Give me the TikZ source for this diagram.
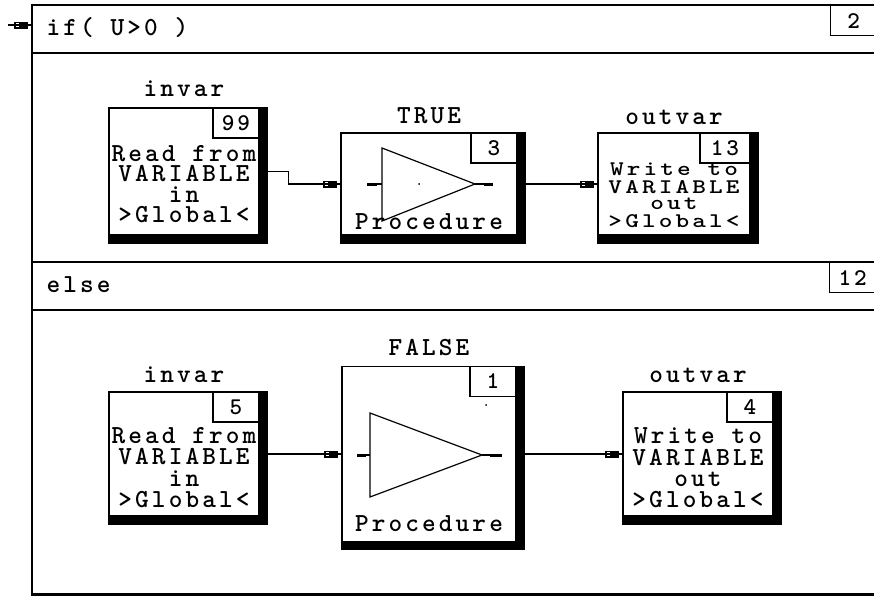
\documentclass[tikz,border=0pt]{standalone}
\usepackage{fontspec}
\newfontfamily\pixfont{lmmonolt10-bold}[Extension=.otf,LetterSpace=12]
\usepackage{tikz}
\usetikzlibrary{arrows.meta,positioning,backgrounds,calc,decorations.markings}

\begin{document}
\begin{tikzpicture}[
    x=1pt, y=-1pt,
    font=\pixfont\fontsize{26}{26}\selectfont,
    line width=1.2pt,
    blk/.style={draw, fill=white, inner sep=0pt},
    numbox/.style={draw, fill=white, inner sep=0pt, minimum width=46pt, minimum height=30pt, font=\pixfont\fontsize{24}{24}\selectfont},
    lbl/.style={inner sep=0pt},
    txt/.style={inner sep=0pt, align=center},
    wire/.style={line width=1.2pt, postaction={decorate}, decoration={markings, mark=at position -3pt with {\arrow{Rectangle[open,length=6pt,width=7pt]Rectangle[length=8pt,width=7pt]}}}}
]
\useasboundingbox (0,0) rectangle (874,597);
\clip (0,0) rectangle (874,597);

% outer frame and rows
\node[blk, fill=none, minimum width=848pt, minimum height=589pt] (frm) at (456,299.5) {};
\draw[line width=3pt] (frm.south west) -- (frm.south east);
\draw (32,53) -- (880,53);
\draw (32,262) -- (880,262);
\draw (32,310) -- (880,310);

\node[lbl, anchor=base west] (cond) at (46,35) {if( U>0 )};
\node[numbox, anchor=north west] (n2) at (830,5) {2};
\node[lbl, anchor=base west] (els) at (46,292) {else};
\node[numbox, anchor=north west] (n12) at (829,262) {12};

% blocks
\node[blk, minimum width=150pt, minimum height=127pt] (in1) at (184,171.5) {};
\node[blk, minimum width=176pt, minimum height=102pt] (pr1) at (429,184) {};
\node[blk, minimum width=152pt, minimum height=102pt] (out1) at (674,184) {};
\node[blk, minimum width=150pt, minimum height=124pt] (in2) at (184,454) {};
\node[blk, minimum width=174pt, minimum height=175pt] (pr2) at (429,454) {};
\node[blk, minimum width=150pt, minimum height=124pt] (out2) at (698,454) {};

\begin{scope}[on background layer]
\foreach \b in {in1,pr1,out1,in2,pr2,out2}
  \fill (\b.north west) rectangle ([shift={(8,8)}]\b.south east);
\end{scope}

\node[lbl, above=10pt of in1] (l1) {invar};
\node[lbl, above=8pt of pr1] (l2) {TRUE};
\node[lbl, above=7pt of out1] (l3) {outvar};
\node[lbl, above=8pt of in2] (l4) {invar};
\node[lbl, above=10pt of pr2] (l5) {FALSE};
\node[lbl, above=8pt of out2] (l6) {outvar};

\node[txt, font=\pixfont\fontsize{26}{20.5}\selectfont, above=12pt of in1.south] (t1) {Read from\\VARIABLE\\in\\>Global<};
\node[txt, above=5pt of pr1.south] (t2) {Procedure};
\node[txt, font=\pixfont\fontsize{26}{21}\selectfont, above=2pt of out1.south] (t3)
  {\scalebox{1}[0.8]{\begin{tabular}{@{}c@{}}Write to\\VARIABLE\\out\\>Global<\end{tabular}}};
\node[txt, font=\pixfont\fontsize{26}{21.5}\selectfont, above=8pt of in2.south] (t4) {Read from\\VARIABLE\\in\\>Global<};
\node[txt, above=10pt of pr2.south] (t5) {Procedure};
\node[txt, font=\pixfont\fontsize{26}{21.3}\selectfont, above=8pt of out2.south] (t6) {Write to\\VARIABLE\\out\\>Global<};

\node[numbox, anchor=north east] (n99) at (in1.north east) {99};
\node[numbox, anchor=north east] (n3) at (pr1.north east) {3};
\node[numbox, anchor=north east, minimum width=50pt, minimum height=30pt] (n13) at (out1.north east) {13};
\node[numbox, anchor=north east] (n5) at (in2.north east) {5};
\node[numbox, anchor=north east] (n1) at (pr2.north east) {1};
\node[numbox, anchor=north east] (n4) at (out2.north east) {4};

% amplifier symbols
\draw (382,148) -- (475,184) -- (382,221) -- cycle;
\draw (367,184) -- (382,184);
\fill (367,182.5) rectangle (377,185.5);
\draw (475,184) -- (493,184);
\fill (484,182.5) rectangle (493,185.5);
\fill (419,184) circle (1pt);

\draw (370,413) -- (482,455) -- (370,497) -- cycle;
\draw (357,455) -- (370,455);
\fill (357,453.5) rectangle (366,456.5);
\draw (482,455) -- (502,455);
\fill (490,453.5) rectangle (502,456.5);
\fill (486,405) circle (1pt);

% connections
\draw[wire] (in1.east) -- ++(29,0) |- (pr1.west);
\draw[wire] (pr1.east) -- (out1.west);
\draw[wire] (in2.east) -- (pr2.west);
\draw[wire] (pr2.east) -- (out2.west);
\coordinate (src) at (8,25);
\draw[wire] (src) -- (src -| frm.west);
\end{tikzpicture}
\end{document}
